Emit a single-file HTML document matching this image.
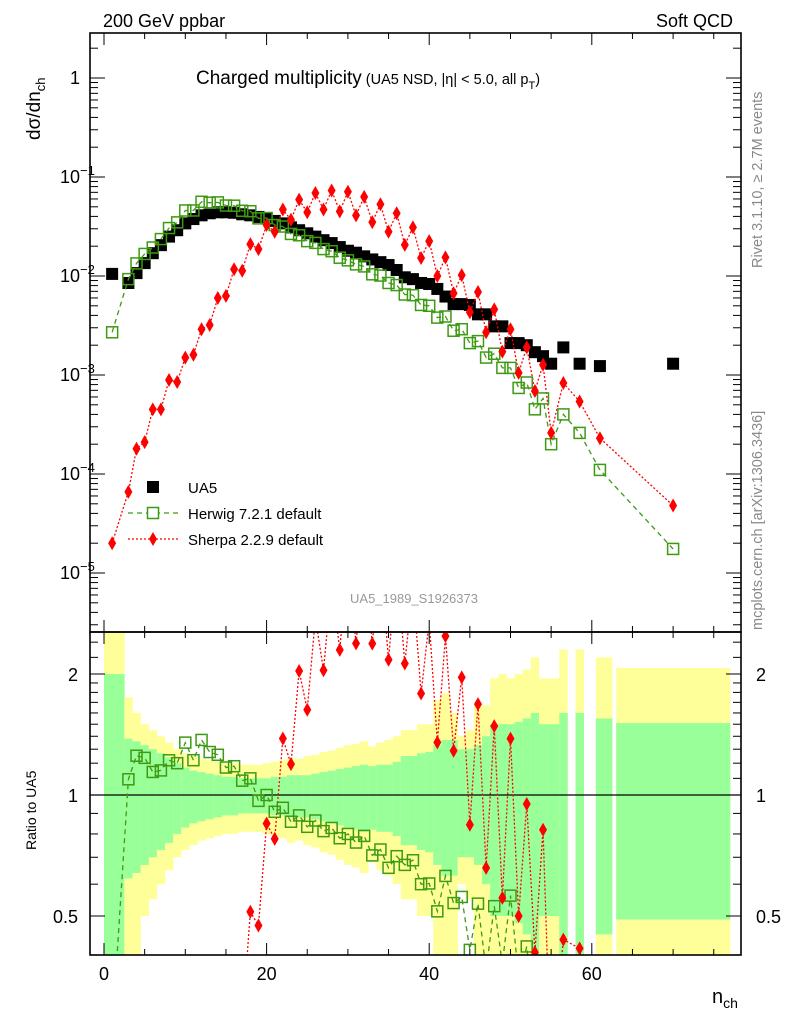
<!DOCTYPE html>
<html><head><meta charset="utf-8"><style>
html,body{margin:0;padding:0;background:#fff;overflow:hidden;width:786px;height:1024px}
svg{display:block;font-family:"Liberation Sans",Arial,sans-serif}
</style></head><body>
<svg id="chart" width="786" height="1024" viewBox="0 0 786 1024" xmlns="http://www.w3.org/2000/svg">
<defs>
<clipPath id="cm"><rect x="90" y="33" width="651" height="599"/></clipPath>
<clipPath id="cr"><rect x="90" y="632" width="651" height="323"/></clipPath>
</defs>
<g id="bands" clip-path="url(#cr)"></g>
<g id="ticks"></g>
<line x1="90" y1="795" x2="741" y2="795" stroke="#000" stroke-width="1.2"/>
<g id="mainMarks" clip-path="url(#cm)"></g>
<g id="ratioMarks" clip-path="url(#cr)"></g>
<rect x="90" y="33" width="651" height="599" fill="none" stroke="#000" stroke-width="1.6"/>
<rect x="90" y="632" width="651" height="323" fill="none" stroke="#000" stroke-width="1.6"/>
<text x="103" y="27" font-size="18">200 GeV ppbar</text>
<text x="733" y="27" font-size="18" text-anchor="end">Soft QCD</text>
<text x="196" y="84" font-size="19">Charged multiplicity<tspan font-size="14.5" dx="4">(UA5 NSD, |η| &lt; 5.0, all p</tspan><tspan font-size="11" dy="5">T</tspan><tspan font-size="14.5" dy="-5">)</tspan></text>
<text transform="translate(40,140) rotate(-90)" font-size="19">dσ/dn<tspan font-size="13" dy="5">ch</tspan></text>
<text transform="translate(36,850) rotate(-90)" font-size="14">Ratio to UA5</text>
<text x="712" y="1003" font-size="20">n<tspan font-size="14" dy="5">ch</tspan></text>
<text transform="translate(762,268) rotate(-90)" font-size="14.5" fill="#888">Rivet 3.1.10, ≥ 2.7M events</text>
<text transform="translate(762,630) rotate(-90)" font-size="14.5" fill="#888">mcplots.cern.ch [arXiv:1306.3436]</text>
<text x="414" y="603" font-size="13" fill="#999" text-anchor="middle">UA5_1989_S1926373</text>
<g>
<rect x="147" y="481" width="12" height="12" fill="#000"/>
<text x="188" y="493" font-size="15">UA5</text>
<line x1="128" y1="513" x2="178" y2="513" stroke="#3d9a12" stroke-width="1.3" stroke-dasharray="5,4"/>
<rect x="147.5" y="507.5" width="11" height="11" fill="#fff" stroke="#3d9a12" stroke-width="1.5"/>
<text x="188" y="519" font-size="15">Herwig 7.2.1 default</text>
<line x1="128" y1="539" x2="178" y2="539" stroke="#f00" stroke-width="1.3" stroke-dasharray="2,2"/>
<path d="M153,532 L157,539 L153,546 L149,539 Z" fill="#f00"/>
<text x="188" y="545" font-size="15">Sherpa 2.2.9 default</text>
</g>
</svg>
<script>
const nVals=[1,3,4,5,6,7,8,9,10,11,12,13,14,15,16,17,18,19,20,21,22,23,24,25,26,27,28,29,30,31,32,33,34,35,36,37,38,39,40,41,42,43,44,45,46,47,48,49,50,51,52,53,54,55,56.5,58.5,61,70];
const ua5Vals=[0.0105,0.0085,0.0107,0.0135,0.017,0.0205,0.025,0.029,0.034,0.0376,0.041,0.043,0.044,0.044,0.0435,0.042,0.041,0.0395,0.0385,0.036,0.034,0.031,0.029,0.027,0.025,0.023,0.0215,0.0196,0.018,0.0172,0.0158,0.0147,0.0138,0.0129,0.0115,0.0097,0.0093,0.0085,0.0083,0.0074,0.0062,0.0052,0.0052,0.0051,0.0041,0.0041,0.0031,0.0031,0.0021,0.0021,0.0020,0.0017,0.00155,0.0013,0.0019,0.0013,0.00123,0.0013];
const herwigVals=[0.0027,0.0093,0.0134,0.0167,0.0194,0.0236,0.0305,0.0348,0.0459,0.0459,0.0562,0.055,0.0554,0.0515,0.0513,0.0456,0.0451,0.0382,0.0385,0.0327,0.0316,0.0266,0.0258,0.0225,0.0216,0.0187,0.0178,0.0153,0.0144,0.0131,0.0125,0.0104,0.0101,0.0085,0.0081,0.0065,0.0064,0.0051,0.0050,0.0038,0.0039,0.0028,0.0029,0.0021,0.0022,0.0015,0.00164,0.00118,0.00118,0.00074,0.00084,0.00045,0.00058,0.0002,0.0004,0.00026,0.00011,0.0000175];
const sherpaVals=[0.00002,0.000066,0.00018,0.00021,0.00045,0.00045,0.00089,0.00085,0.0015,0.0016,0.0029,0.0032,0.006,0.0063,0.0117,0.0113,0.021,0.0187,0.0327,0.028,0.047,0.037,0.059,0.044,0.069,0.047,0.073,0.045,0.071,0.041,0.063,0.035,0.053,0.028,0.043,0.0206,0.031,0.0152,0.0225,0.01,0.0154,0.0067,0.0102,0.0043,0.0069,0.0027,0.0046,0.00172,0.0029,0.00105,0.0019,0.00069,0.00127,0.00026,0.00083,0.00054,0.00023,0.000048];
const errInner=[1.0,0.38,0.36,0.33,0.3,0.27,0.24,0.2,0.17,0.15,0.14,0.13,0.12,0.11,0.11,0.1,0.1,0.1,0.1,0.11,0.11,0.12,0.12,0.12,0.13,0.14,0.15,0.16,0.17,0.18,0.19,0.18,0.19,0.19,0.21,0.25,0.25,0.27,0.28,0.33,0.37,0.37,0.3,0.3,0.33,0.4,0.5,0.5,0.5,0.52,0.55,0.6,0.5,0.5,0.6,0.6,0.55,0.51];
const errOuter=[1.6,0.75,0.6,0.5,0.45,0.4,0.35,0.3,0.27,0.25,0.23,0.22,0.21,0.2,0.2,0.19,0.19,0.19,0.2,0.21,0.22,0.24,0.23,0.25,0.26,0.28,0.29,0.31,0.33,0.34,0.36,0.32,0.35,0.37,0.4,0.45,0.45,0.5,0.5,0.72,0.79,0.6,0.4,0.45,0.67,0.67,0.95,1.0,0.95,1.0,1.05,1.2,0.95,0.95,1.3,1.3,1.2,1.07];
const binLoOverride={1:0,56.5:56,58.5:58,61:60.5,70:63};
const binHiOverride={1:2.5,55:56,56.5:57,58.5:59,61:62.5,70:77};
const mainTickDecades=[1,0.1,0.01,0.001,0.0001,0.00001];
const mainTickExp=["","−1","−2","−3","−4","−5"];
const ratioMajor=[0.5,1,2];
const ratioMajorLabels=["0.5","1","2"];
const xMajor=[0,20,40,60];

const X=n=>104+8.13*n;
const Ym=v=>78-99*Math.log10(v);
const Yr=r=>795-121*Math.log2(r);
const NS="http://www.w3.org/2000/svg";
function mk(tag,attrs,parent){const e=document.createElementNS(NS,tag);for(const k in attrs)e.setAttribute(k,attrs[k]);parent.appendChild(e);return e;}

const bands=document.getElementById('bands');
const ticks=document.getElementById('ticks');
const mm=document.getElementById('mainMarks');
const rm=document.getElementById('ratioMarks');

nVals.forEach((n,i)=>{
  const lo=(n in binLoOverride)?binLoOverride[n]:n-0.5;
  const hi=(n in binHiOverride)?binHiOverride[n]:n+0.5;
  const x1=X(lo),w=X(hi)-X(lo);
  const eo=errOuter[i],ei=errInner[i];
  const yoT=Math.max(Yr(1+eo),630),yoB=eo>=0.99?956:Math.min(Yr(1-eo),956);
  const yiT=Math.max(Yr(1+ei),630),yiB=ei>=0.99?956:Math.min(Yr(1-ei),956);
  const r1=mk('rect',{x:x1,y:yoT,width:w+0.3,height:yoB-yoT,fill:'#ffff99'},bands);
  
  
  const r2=mk('rect',{x:x1,y:yiT,width:w+0.3,height:yiB-yiT,fill:'#99ff99'},bands);
  
  
});

function tk(x1,y1,x2,y2){const l=mk('line',{x1,y1,x2,y2,stroke:'#000','stroke-width':1},ticks);
  
  }
for(let v=0;v<=75;v+=5){const x=X(v),L=(v%20===0)?12:6;
  tk(x,33,x,33+L);tk(x,632,x,632-L);tk(x,632,x,632+L);tk(x,955,x,955-L);}
xMajor.forEach(v=>{const t=mk('text',{x:X(v),y:980,'font-size':18,'text-anchor':'middle'},ticks);t.textContent=v;
  
  });
for(let d=-6;d<=0;d++){for(let m=1;m<=9;m++){const v=m*Math.pow(10,d);const y=Ym(v);if(y<33||y>632)continue;
  const L=m===1?15:8;tk(90,y,90+L,y);tk(741,y,741-L,y);}}
mainTickDecades.forEach((v,i)=>{const y=Ym(v);
  const t=mk('text',{x:i===0?80:60,y:y+6,'font-size':18,'text-anchor':i===0?'end':'start'},ticks);
  t.textContent=i===0?'1':'10';
  if(i>0){const s=mk('tspan',{'font-size':13,dy:-8},t);s.textContent=mainTickExp[i];}
  
  });
[0.4,0.5,0.6,0.7,0.8,0.9,1,1.1,1.2,1.3,1.4,1.5,1.6,1.7,1.8,1.9,2,2.2,2.4].forEach(r=>{const y=Yr(r);
  const L=(ratioMajor.includes(r))?15:8;tk(90,y,90+L,y);tk(741,y,741-L,y);});
ratioMajor.forEach((r,i)=>{[78,756].forEach((x,j)=>{const t=mk('text',{x,y:Yr(r)+7,'font-size':18,'text-anchor':j?'start':'end'},ticks);t.textContent=ratioMajorLabels[i];
  
  });});

const green='#3d9a12';
// clip polyline segments to a vertical window so nothing extends off-page
function clipSegs(pts,yMin,yMax){
  const out=[];
  for(let i=0;i<pts.length-1;i++){
    let [x1,y1]=pts[i],[x2,y2]=pts[i+1];
    if((y1<yMin&&y2<yMin)||(y1>yMax&&y2>yMax))continue;
    const cl=(xa,ya,xb,yb)=>{
      if(ya<yMin){const t=(yMin-ya)/(yb-ya);return [xa+t*(xb-xa),yMin];}
      if(ya>yMax){const t=(yMax-ya)/(yb-ya);return [xa+t*(xb-xa),yMax];}
      return [xa,ya];};
    const a=cl(x1,y1,x2,y2),b=cl(x2,y2,x1,y1);
    out.push([a,b]);
  }
  return out;
}
function line(parent,pts,color,dash,name,yMin,yMax){
  const segs=clipSegs(pts,yMin,yMax);
  let d='';let last=null;
  segs.forEach(([a,b])=>{
    if(!last||Math.abs(last[0]-a[0])>0.01||Math.abs(last[1]-a[1])>0.01)d+=`M${a[0].toFixed(2)},${a[1].toFixed(2)} `;
    d+=`L${b[0].toFixed(2)},${b[1].toFixed(2)} `;last=b;});
  const p=mk('path',{d,fill:'none',stroke:color,'stroke-width':1.3,'stroke-dasharray':dash},parent);
  
  }
function sq(parent,x,y,filled,name){if(y<20||y>1000)return;const r=mk('rect',filled?{x:x-6,y:y-6,width:12,height:12,fill:'#000'}:{x:x-5.5,y:y-5.5,width:11,height:11,fill:'none',stroke:green,'stroke-width':1.5},parent);
  
  }
function dia(parent,x,y,name){if(y<20||y>1000)return;const p=mk('path',{d:`M${x},${y-7} L${x+4},${y} L${x},${y+7} L${x-4},${y} Z`,fill:'#f00'},parent);
  
  }

nVals.forEach((n,i)=>sq(mm,X(n),Ym(ua5Vals[i]),true,'ua5-point'));
line(mm,nVals.map((n,i)=>[X(n),Ym(herwigVals[i])]),green,'5,4','herwig-line',30,635);
line(mm,nVals.map((n,i)=>[X(n),Ym(sherpaVals[i])]),'#f00','2,2','sherpa-line',30,635);
nVals.forEach((n,i)=>sq(mm,X(n),Ym(herwigVals[i]),false,'herwig-point'));
nVals.forEach((n,i)=>dia(mm,X(n),Ym(sherpaVals[i]),'sherpa-point'));

const hr=nVals.map((n,i)=>[X(n),Yr(herwigVals[i]/ua5Vals[i])]);
const sr=nVals.map((n,i)=>[X(n),Yr(sherpaVals[i]/ua5Vals[i])]);
line(rm,hr,green,'5,4','herwig-ratio-line',628,960);
line(rm,sr,'#f00','2,2','sherpa-ratio-line',628,960);
hr.forEach(p=>sq(rm,p[0],p[1],false,'herwig-ratio-point'));
sr.forEach(p=>dia(rm,p[0],p[1],'sherpa-ratio-point'));
</script>
</body></html>
